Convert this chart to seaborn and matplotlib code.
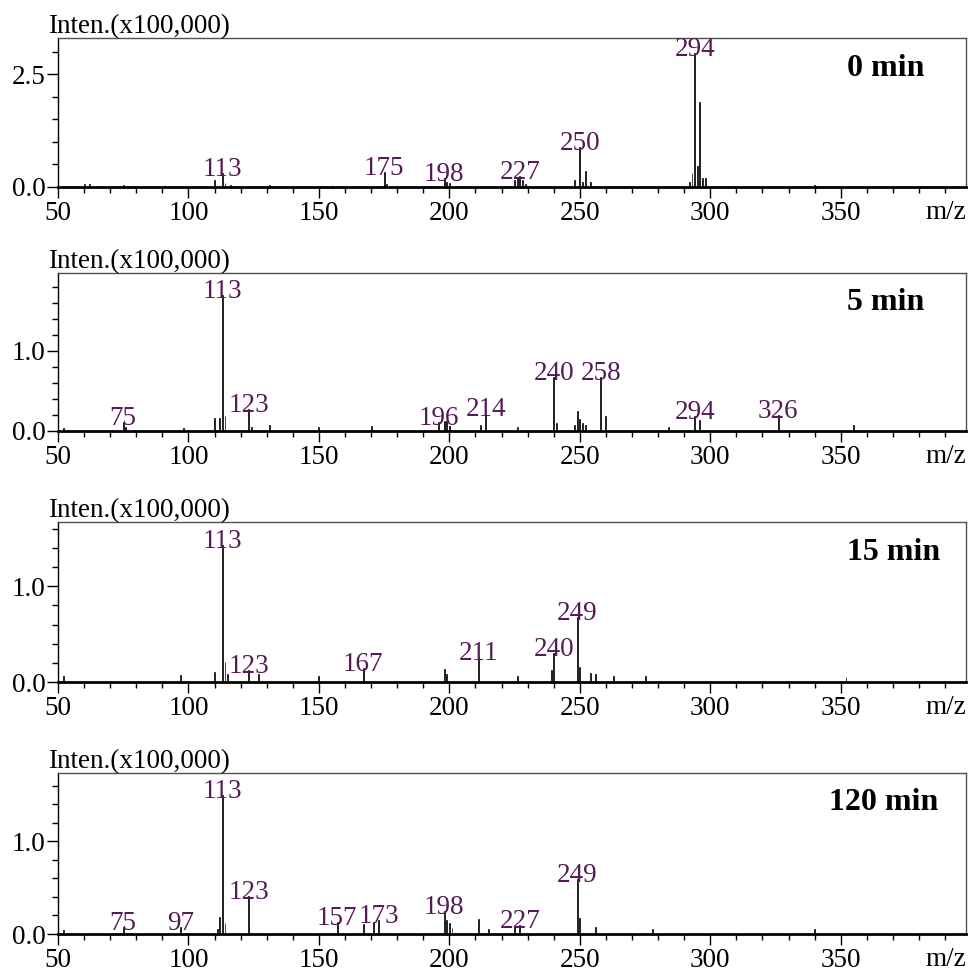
import numpy as np
import pandas as pd
import matplotlib
matplotlib.use("Agg")
import matplotlib.pyplot as plt
import seaborn as sns
from matplotlib.ticker import MultipleLocator, FormatStrFormatter

# ---- spectra: m/z and intensity (x100,000) ----
times = ["0 min", "5 min", "15 min", "120 min"]

mz_0 = [60, 62, 75, 91, 110, 113, 114, 116, 131, 155, 175, 176, 198, 199, 200,
        225, 226, 227, 228, 229, 248, 250, 251, 252, 254, 292, 293, 294, 295,
        296, 297, 298, 340]
int_0 = [0.06, 0.07, 0.04, 0.04, 0.15, 0.31, 0.08, 0.05, 0.05, 0.04, 0.33, 0.06,
         0.20, 0.10, 0.08, 0.15, 0.20, 0.24, 0.15, 0.06, 0.15, 0.88, 0.12, 0.35,
         0.10, 0.10, 0.30, 2.96, 0.46, 1.88, 0.20, 0.20, 0.05]
lab_0 = [113, 175, 198, 227, 250, 294]

mz_5 = [52, 75, 76, 98, 110, 112, 113, 114, 123, 124, 131, 150, 170, 196, 198,
        199, 200, 212, 214, 226, 240, 241, 248, 249, 250, 251, 252, 258, 260,
        284, 294, 296, 326, 355]
int_5 = [0.04, 0.11, 0.05, 0.04, 0.16, 0.16, 1.70, 0.19, 0.28, 0.05, 0.07, 0.05,
         0.06, 0.11, 0.13, 0.13, 0.06, 0.07, 0.22, 0.05, 0.68, 0.10, 0.07, 0.25,
         0.15, 0.10, 0.07, 0.68, 0.19, 0.05, 0.19, 0.14, 0.20, 0.07]
lab_5 = [75, 113, 123, 196, 214, 240, 258, 294, 326]

mz_15 = [52, 97, 110, 113, 114, 115, 123, 127, 150, 167, 198, 199, 211, 226,
         239, 240, 249, 250, 254, 256, 263, 275, 352]
int_15 = [0.06, 0.07, 0.10, 1.43, 0.21, 0.08, 0.13, 0.08, 0.06, 0.15, 0.14, 0.08,
          0.26, 0.06, 0.125, 0.30, 0.68, 0.16, 0.09, 0.08, 0.06, 0.06, 0.05]
lab_15 = [113, 123, 167, 211, 240, 249]

mz_120 = [52, 75, 97, 111, 112, 113, 114, 123, 157, 167, 171, 173, 198, 199, 200,
          201, 211, 215, 225, 227, 249, 250, 256, 278, 340]
int_120 = [0.04, 0.08, 0.08, 0.05, 0.18, 1.50, 0.12, 0.41, 0.125, 0.11, 0.13,
           0.15, 0.25, 0.15, 0.12, 0.07, 0.16, 0.05, 0.09, 0.10, 0.59, 0.17, 0.08,
           0.05, 0.05]
lab_120 = [75, 97, 113, 123, 157, 173, 198, 227, 249]

spectra = [(mz_0, int_0, lab_0), (mz_5, int_5, lab_5),
           (mz_15, int_15, lab_15), (mz_120, int_120, lab_120)]

# ---- layout (figure pixels) ----
W, H = 972, 974
left_px, right_px = 58, 966
panel_px = [(38, 187), (273, 431), (522, 682), (773, 934)]   # (top, bottom)
ymax = [3.30, 1.975, 1.67, 1.74]
ymajor = [2.5, 1.0, 1.0, 1.0]
yminor = [0.5, 0.2, 0.2, 0.2]
time_x = [0.869, 0.869, 0.869, 0.849]

sns.set_theme(style="ticks", rc={"text.color": "black",
                                 "axes.labelcolor": "black",
                                 "xtick.color": "black",
                                 "ytick.color": "black",
                                 "axes.edgecolor": "black"})
plt.rcParams["font.family"] = ["Liberation Serif", "DejaVu Serif"]
plt.rcParams["axes.linewidth"] = 1.0

label_color = "#561a56"
fs = 19.5

fig = plt.figure(figsize=(W / 100, H / 100), dpi=100)

for i, ((mz, inten, labs), (top, bot)) in enumerate(zip(spectra, panel_px)):
    ax = fig.add_axes([left_px / W, 1 - bot / H,
                       (right_px - left_px) / W, (bot - top) / H])
    df = pd.DataFrame({"mz": mz, "intensity": inten})
    sns.histplot(data=df, x="mz", weights="intensity", discrete=True,
                 shrink=0.35, color="black", edgecolor="black", linewidth=0.5,
                 alpha=1.0, ax=ax)
    ax.set_xlim(50, 398)
    ax.set_ylim(0, ymax[i])
    ax.set_xlabel("")
    ax.set_ylabel("")

    ax.xaxis.set_major_locator(MultipleLocator(50))
    ax.xaxis.set_minor_locator(MultipleLocator(10))
    ax.yaxis.set_major_locator(MultipleLocator(ymajor[i]))
    ax.yaxis.set_minor_locator(MultipleLocator(yminor[i]))
    ax.yaxis.set_major_formatter(FormatStrFormatter("%.1f"))
    ax.set_xticks([t for t in range(50, 400, 50)])
    ax.tick_params(axis="both", which="major", direction="out", length=8,
                   width=1, labelsize=fs, color="black", labelcolor="black")
    ax.tick_params(axis="both", which="minor", direction="out", length=4.3,
                   width=1, color="black")
    ax.tick_params(axis="x", which="major", pad=2.3)
    ax.tick_params(axis="y", which="major", pad=1)

    for side in ("top", "right"):
        ax.spines[side].set_color("#505050")
        ax.spines[side].set_linewidth(1.0)
    ax.spines["left"].set_color("black")
    ax.spines["bottom"].set_color("black")
    ax.spines["bottom"].set_linewidth(2.0)

    # peak labels
    lookup = dict(zip(mz, inten))
    for m in labs:
        ax.annotate(str(m), xy=(m, lookup[m]), xytext=(0, -3),
                    textcoords="offset pixels", ha="center", va="baseline",
                    fontsize=fs, color=label_color)

    ax.annotate("Inten.(x100,000)", xy=(0, 1), xycoords="axes fraction",
                xytext=(-10, 5), textcoords="offset pixels",
                ha="left", va="baseline", fontsize=fs, color="black")
    ax.annotate(times[i], xy=(time_x[i], 1), xycoords="axes fraction",
                xytext=(0, -30), textcoords="offset pixels",
                ha="left", va="center", fontsize=23, fontweight="bold",
                color="black")
    ax.annotate("m/z", xy=(1, 0), xycoords="axes fraction",
                xytext=(0, -13), textcoords="offset pixels",
                ha="right", va="top", fontsize=fs, color="black")

fig.savefig("out.png", dpi=100)
